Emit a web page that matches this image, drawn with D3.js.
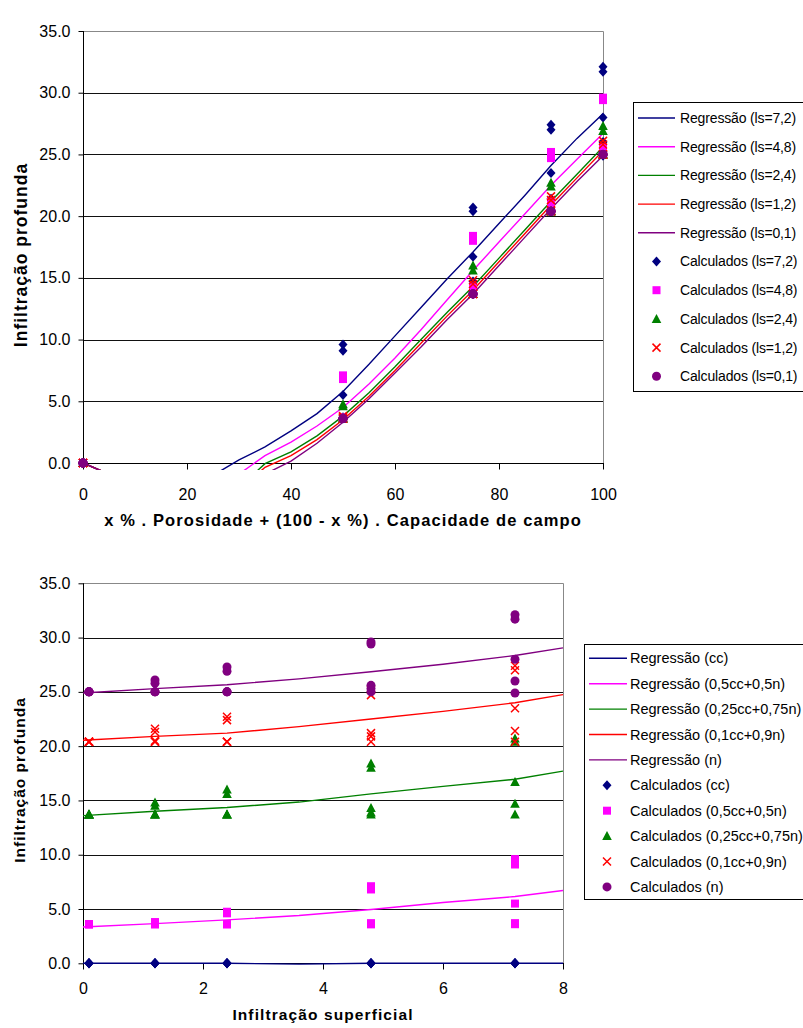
<!DOCTYPE html>
<html>
<head>
<meta charset="utf-8">
<script src="https://cdn.jsdelivr.net/npm/d3@7"></script>
<style>
body { margin: 0; background: #fff; }
text { font-family: "Liberation Sans", Arial, sans-serif; }
</style>
</head>
<body>
<svg id="chart" width="803" height="1028"></svg>
<script>
// ---- data ----
var mixX = [0, 50, 75, 90, 100];            // x % porosidade
var lsVals = [7.2, 4.8, 2.4, 1.2, 0.1];     // infiltração superficial
var lsNames = ['ls=7,2', 'ls=4,8', 'ls=2,4', 'ls=1,2', 'ls=0,1'];
var mixNames = ['cc', '0,5cc+0,5n', '0,25cc+0,75n', '0,1cc+0,9n', 'n'];
var colors = ['#000080', '#ff00ff', '#008000', '#ff0000', '#800080'];
var shapes = ['diamond', 'square', 'triangle', 'cross', 'circle'];

// calculados, one row per mix (cc, 0.5, 0.25, 0.1, n)
var calcLs72 = [[0, 0, 0, 0, 0], [9.6, 9.1, 5.5, 3.7, 3.6], [20.7, 20.4, 16.7, 14.7, 13.7], [27.4, 27.0, 23.5, 21.4, 20.4], [32.1, 31.7, 28.0, 26.0, 24.9]];
var calcLs48 = [[0, 0, 0, 0, 0], [7.1, 6.8, 3.7, 3.6, 3.6], [18.4, 18.0, 14.3, 13.9, 13.7], [25.2, 24.7, 21.2, 20.9, 20.4], [29.6, 29.4, 25.6, 25.3, 25.0]];
var calcLs24 = [[0, 0, 0, 0, 0], [4.75, 4.6, 3.6, 3.6, 3.6], [16.0, 15.6, 13.7, 13.7, 13.7], [22.7, 22.4, 20.4, 20.4, 20.4], [27.3, 26.9, 25.0, 25.0, 25.0]];
var calcLs12 = [[0, 0, 0, 0, 0], [3.8, 3.7, 3.6, 3.6, 3.6], [14.8, 14.5, 13.7, 13.7, 13.7], [21.6, 21.3, 20.5, 20.4, 20.4], [26.1, 25.8, 25.0, 25.0, 25.0]];
var calcLs01 = [[0, 0, 0, 0, 0], [3.6, 3.6, 3.6, 3.6, 3.6], [13.7, 13.7, 13.7, 13.7, 13.7], [20.4, 20.4, 20.4, 20.4, 20.4], [25.0, 25.0, 25.0, 25.0, 25.0]];
var calcByLs = [calcLs72, calcLs48, calcLs24, calcLs12, calcLs01];

// regressão vs x %
var regX = [0, 5, 10, 15, 20, 25, 30, 35, 40, 45, 50, 55, 60, 65, 70, 75, 80, 85, 90, 95, 100];
var regLs72 = [0, -0.9, -2.5, -3.3, -3.0, -1.0, 0.25, 1.3, 2.6, 4.0, 5.8, 8.0, 10.3, 12.6, 14.9, 17.1, 19.4, 21.7, 24.1, 26.3, 28.3];
var regLs48 = [0, -0.9, -2.5, -3.6, -3.8, -2.4, -0.9, 0.6, 1.7, 3.0, 4.5, 6.4, 8.5, 10.8, 13.2, 15.6, 17.9, 20.2, 22.5, 24.6, 26.7];
var regLs24 = [0, -0.9, -2.5, -3.8, -4.2, -3.2, -2.0, -0.05, 0.9, 2.2, 3.8, 5.7, 7.8, 10.0, 12.2, 14.3, 16.6, 18.9, 21.2, 23.4, 25.6];
var regLs12 = [0, -0.9, -2.5, -3.9, -4.4, -3.5, -2.2, -0.35, 0.6, 1.9, 3.5, 5.4, 7.5, 9.7, 11.9, 14.0, 16.3, 18.6, 20.9, 23.1, 25.3];
var regLs01 = [0, -0.9, -2.5, -4.0, -4.6, -3.8, -2.4, -0.9, 0.15, 1.6, 3.3, 5.2, 7.3, 9.4, 11.6, 13.7, 16.0, 18.3, 20.6, 22.8, 24.9];

// regressão vs infiltração superficial
var regBx = [0, 1.2, 2.4, 3.6, 4.8, 6.0, 7.2, 8.0];
var regCc = [0, 0, 0, -0.08, 0, 0, 0, 0];
var regHalf = [3.35, 3.65, 4.0, 4.4, 4.95, 5.6, 6.15, 6.7];
var regQuarter = [13.6, 14.0, 14.35, 14.85, 15.6, 16.3, 16.95, 17.7];
var regTenth = [20.55, 20.9, 21.2, 21.8, 22.5, 23.2, 24.0, 24.75];
var regN = [24.9, 25.3, 25.65, 26.2, 26.85, 27.55, 28.35, 29.05];

var yTicks = [0, 5, 10, 15, 20, 25, 30, 35];

var svg = d3.select('#chart');

function marker(g, shape, color) {
    if (shape == 'diamond') {
        g.append('path').attr('d', 'M0,-5L4.5,0L0,5L-4.5,0Z').attr('fill', color);
    } else if (shape == 'square') {
        g.append('rect').attr('x', -4).attr('y', -4).attr('width', 8).attr('height', 8).attr('fill', color);
    } else if (shape == 'triangle') {
        g.append('path').attr('d', 'M0,-5L4.8,4L-4.8,4Z').attr('fill', color);
    } else if (shape == 'cross') {
        g.append('path').attr('d', 'M-4,-4L4,4M-4,4L4,-4').attr('stroke', color).attr('stroke-width', 1.5).attr('fill', 'none');
    } else {
        g.append('circle').attr('r', 4.5).attr('fill', color);
    }
}

function drawChart(c) {
    var g = svg.append('g');
    var x = d3.scaleLinear().domain(c.xDomain).range([c.left, c.right]);
    var y = d3.scaleLinear().domain([0, 35]).range([c.bottom, c.top]);

    // gridlines
    g.selectAll('.grid').data(yTicks.slice(1, -1)).enter().append('line')
        .attr('x1', c.left).attr('x2', c.right)
        .attr('y1', function(d) { return Math.round(y(d)) + 0.5; })
        .attr('y2', function(d) { return Math.round(y(d)) + 0.5; })
        .attr('stroke', '#111').attr('stroke-width', 1);

    // plot border top / right
    g.append('path')
        .attr('d', 'M' + c.left + ',' + (Math.round(c.top) + 0.5) + 'H' + (Math.round(c.right) + 0.5) + 'V' + c.bottom)
        .attr('stroke', '#888').attr('fill', 'none');

    // axes
    var yAxis = g.append('g').attr('transform', 'translate(' + (Math.round(c.left) + 0.5) + ',0)')
        .call(d3.axisLeft(y).tickValues(yTicks).tickFormat(d3.format('.1f')).tickSize(5).tickPadding(8));
    var xAxis = g.append('g').attr('transform', 'translate(0,' + (Math.round(c.bottom) + 0.5) + ')')
        .call(d3.axisBottom(x).tickValues(c.xTicks).tickFormat(d3.format('d')).tickSize(6).tickPadding(c.xPad));
    [yAxis, xAxis].forEach(function(a) {
        a.select('.domain').remove();
        a.selectAll('text').attr('font-size', 16).attr('fill', '#000')
            .style('font-family', '"Liberation Sans", Arial, sans-serif');
        a.selectAll('line').attr('stroke', '#000');
    });
    g.append('line').attr('x1', Math.round(c.left) + 0.5).attr('x2', Math.round(c.left) + 0.5)
        .attr('y1', c.top).attr('y2', c.bottom + 1).attr('stroke', '#000');
    g.append('line').attr('x1', c.left).attr('x2', c.right + 1)
        .attr('y1', Math.round(c.bottom) + 0.5).attr('y2', Math.round(c.bottom) + 0.5).attr('stroke', '#000');

    // regression lines, clipped a little below zero
    var clipId = 'clip' + c.id;
    svg.append('clipPath').attr('id', clipId).append('rect')
        .attr('x', c.left).attr('y', c.top).attr('width', c.right - c.left).attr('height', c.bottom - c.top + 7);
    var line = d3.line().x(function(d) { return x(d[0]); }).y(function(d) { return y(d[1]); });
    var lg = g.append('g').attr('clip-path', 'url(#' + clipId + ')');
    c.reg.forEach(function(vals, i) {
        lg.append('path')
            .datum(vals.map(function(v, k) { return [c.regX[k], v]; }))
            .attr('d', line).attr('fill', 'none')
            .attr('stroke', colors[i]).attr('stroke-width', 1.4);
    });

    // calculated points
    c.points.forEach(function(pts, i) {
        pts.forEach(function(p) {
            var m = g.append('g').attr('transform', 'translate(' + x(p[0]) + ',' + y(p[1]) + ')');
            marker(m, shapes[i], colors[i]);
        });
    });

    // axis titles
    g.append('text').attr('x', (c.left + c.right) / 2).attr('y', c.xTitleY)
        .attr('text-anchor', 'middle').attr('font-weight', 'bold').attr('font-size', c.xTitleSize)
        .attr('letter-spacing', 1.1).text(c.xTitle);
    g.append('text').attr('transform', 'translate(' + c.yTitleX + ',' + c.yTitleMid + ') rotate(-90)')
        .attr('text-anchor', 'middle').attr('font-weight', 'bold').attr('font-size', c.yTitleSize)
        .attr('letter-spacing', 1).text('Infiltração profunda');

    // legend
    var L = c.legend;
    g.append('rect').attr('x', L.x + 0.5).attr('y', L.y + 0.5).attr('width', 260).attr('height', L.h)
        .attr('fill', '#fff').attr('stroke', '#000');
    L.labels.forEach(function(lab, k) {
        var cy = L.first + k * L.step;
        var idx = k % 5;
        if (k < 5) {
            g.append('line').attr('x1', L.lineX0).attr('x2', L.lineX1).attr('y1', cy).attr('y2', cy)
                .attr('stroke', colors[idx]).attr('stroke-width', 1.4);
        } else {
            var m = g.append('g').attr('transform', 'translate(' + L.markX + ',' + cy + ')');
            marker(m, shapes[idx], colors[idx]);
        }
        g.append('text').attr('x', L.textX).attr('y', cy).attr('dy', '0.35em')
            .attr('font-size', L.fontSize).attr('letter-spacing', L.spacing).text(lab);
    });
}

// top chart: x % porosity
var topPoints = calcByLs.map(function(rows) {
    var pts = [];
    rows.forEach(function(vals, j) { vals.forEach(function(v) { pts.push([mixX[j], v]); }); });
    return pts;
});
var topLabels = lsNames.map(function(n) { return 'Regressão (' + n + ')'; })
    .concat(lsNames.map(function(n) { return 'Calculados (' + n + ')'; }));

drawChart({
    id: 1, left: 83, right: 603, top: 31, bottom: 463,
    xDomain: [0, 100], xTicks: [0, 20, 40, 60, 80, 100], xPad: 19,
    regX: regX, reg: [regLs72, regLs48, regLs24, regLs12, regLs01],
    points: topPoints,
    xTitle: 'x % . Porosidade + (100 - x %) . Capacidade de campo', xTitleY: 526, xTitleSize: 16.5,
    yTitleX: 27, yTitleMid: 255, yTitleSize: 17.5,
    legend: { x: 633, y: 102, h: 289, first: 118, step: 28.7, lineX0: 638, lineX1: 675, markX: 656.5, textX: 680,
              fontSize: 14, spacing: -0.15, labels: topLabels }
});

// bottom chart: infiltração superficial
var botPoints = mixNames.map(function(n, j) {
    var pts = [];
    calcByLs.forEach(function(rows, i) { rows[j].forEach(function(v) { pts.push([lsVals[i], v]); }); });
    return pts;
});
var botLabels = mixNames.map(function(n) { return 'Regressão (' + n + ')'; })
    .concat(mixNames.map(function(n) { return 'Calculados (' + n + ')'; }));

drawChart({
    id: 2, left: 83, right: 563, top: 583.3, bottom: 963.3,
    xDomain: [0, 8], xTicks: [0, 2, 4, 6, 8], xPad: 13,
    regX: regBx, reg: [regCc, regHalf, regQuarter, regTenth, regN],
    points: botPoints,
    xTitle: 'Infiltração superficial', xTitleY: 1020, xTitleSize: 15.5,
    yTitleX: 25, yTitleMid: 780, yTitleSize: 15.5,
    legend: { x: 584, y: 644, h: 255, first: 658.3, step: 25.4, lineX0: 589, lineX1: 627, markX: 607, textX: 630,
              fontSize: 14.5, spacing: 0, labels: botLabels }
});
</script>
</body>
</html>
